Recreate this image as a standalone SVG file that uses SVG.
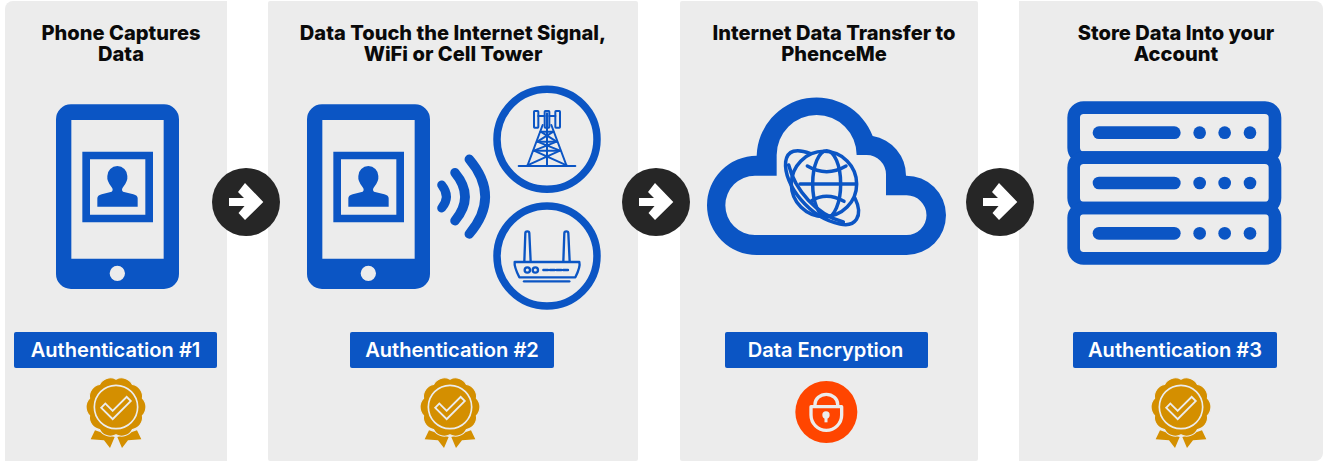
<svg xmlns="http://www.w3.org/2000/svg" xmlns:xlink="http://www.w3.org/1999/xlink" width="1328" height="465" viewBox="0 0 1328 465">
<style>
.panel{fill:#ececec}
.blue{fill:#0b55c4}
.bl{fill:none;stroke:#0b55c4;stroke-linecap:round;stroke-linejoin:round}
.title{font-family:"Inter","Liberation Sans",sans-serif;font-weight:800;font-size:20.1px;fill:#0a0a0a;text-anchor:middle}
.tag{fill:#0b55c4}
.tagt{font-family:"Inter","Liberation Sans",sans-serif;font-weight:600;font-size:20.1px;fill:#fff;text-anchor:middle}
</style>
<defs>
<g id="phone" transform="scale(0.33333)">
<path class="blue" fill-rule="evenodd" d="M213 73H492A45 45 0 0 1 537 118V582A45 45 0 0 1 492 627H213A45 45 0 0 1 168 582V118A45 45 0 0 1 213 73ZM214 120V536H491V120ZM352 557A23 23 0 1 0 352 603A23 23 0 1 0 352 557Z"/>
<path class="blue" fill-rule="evenodd" d="M247 215H459V427H247ZM270 238V404H436V238Z"/>
<path class="blue" d="M292 380V355Q292 346 305 343L335 335Q341 330 335 322Q320 303 322 288A30 30 0 0 1 382 288Q384 303 369 322Q363 330 369 335L400 343Q413 346 413 355V380Z"/>
</g>
<g id="arrow">
<circle r="34" fill="#262626"/>
<path fill="#fff" d="M-17 -4H4V4H-17ZM-1 -19L17.3 0L-1 18L-7.5 11L2 0L-8 -10Z"/>
</g>
<g id="badge" transform="scale(0.33333)">
<path fill="#d48f00" d="M-63 70L-76 97L-36 100L-18 123L-4 90ZM63 70L76 97L36 100L18 123L4 90Z"/>
<path fill="#d48f00" stroke="#ececec" stroke-width="3" transform="scale(1.07)" d="M74 -24A34 34 0 0 1 74 24A34 34 0 0 1 46 63A34 34 0 0 1 0 78A34 34 0 0 1 -46 63A34 34 0 0 1 -74 24A34 34 0 0 1 -74 -24A34 34 0 0 1 -46 -63A34 34 0 0 1 0 -78A34 34 0 0 1 46 -63A34 34 0 0 1 74 -24Z"/>
<circle r="65" fill="none" stroke="#ececec" stroke-width="5"/>
<path d="M-32 2L-10 24L32 -18" fill="none" stroke="#ececec" stroke-width="23" stroke-linecap="square" stroke-linejoin="miter"/>
<path d="M-32 2L-10 24L32 -18" fill="none" stroke="#d48f00" stroke-width="12" stroke-linecap="square" stroke-linejoin="miter"/>
</g>
</defs>
<rect width="1328" height="465" fill="#fff"/>

<g id="node-capture">
<path class="panel" d="M5 461V9A8 8 0 0 1 13 1H227V461Z"/>
<text class="title"><tspan x="121" y="40">Phone Captures</tspan><tspan x="121" y="61">Data</tspan></text>
<use href="#phone" xlink:href="#phone" x="0" y="80"/>
<rect class="tag" x="14" y="332" width="203" height="36" rx="2"/>
<text class="tagt" x="115.5" y="357">Authentication #1</text>
<use href="#badge" xlink:href="#badge" x="116" y="407"/>
</g>

<g id="node-signal">
<rect class="panel" x="268" y="1" width="370" height="460" rx="2"/>
<text class="title"><tspan x="453" y="40">Data Touch the Internet Signal,</tspan><tspan x="453" y="61">WiFi or Cell Tower</tspan></text>
<use href="#phone" xlink:href="#phone" x="251" y="80"/>
<path class="bl" stroke-width="9" d="M441.7 185Q451 196.7 441.7 208"/>
<path class="bl" stroke-width="9.5" d="M455 172.7Q475 196.7 455 220.7"/>
<path class="bl" stroke-width="9.5" d="M469.3 159.3Q501 196.7 469.3 234"/>
<circle cx="547" cy="139.3" r="50" fill="none" stroke="#0b55c4" stroke-width="7.5"/>
<circle cx="547" cy="256" r="50" fill="none" stroke="#0b55c4" stroke-width="7.5"/>
<g transform="translate(420 80) scale(0.33333)">
<g class="bl" stroke-width="6">
<path d="M296 258H466"/>
<path d="M322 258L368 135M440 258L394 135M381 100V258"/>
<path d="M362 155H400M352 185H410M342 212H420"/>
<path d="M362 155L410 185M400 155L352 185M352 185L420 212M410 185L342 212M342 212L440 256M420 212L322 256"/>
<rect x="342" y="93" width="13" height="50" rx="2"/>
<rect x="374" y="93" width="14" height="50" rx="2"/>
<rect x="406" y="93" width="14" height="50" rx="2"/>
<path d="M355 108H374M388 108H406"/>
</g>
<g class="bl" stroke-width="7">
<path d="M313 545L316 460A6 6 0 0 1 328 460L332 545M430 545L433 460A6 6 0 0 1 445 460L449 545"/>
<path d="M284 546H478Q482 560 466 592H298Q282 560 284 546Z"/>
<path d="M312 604H448"/>
<circle cx="322" cy="570" r="8"/>
<circle cx="346" cy="570" r="8"/>
<path d="M370 570H384M390 570H404M410 570H424M430 570H444"/>
</g>
</g>
<rect class="tag" x="350" y="332" width="204" height="36" rx="2"/>
<text class="tagt" x="452" y="357">Authentication #2</text>
<use href="#badge" xlink:href="#badge" x="450" y="407"/>
</g>

<g id="node-transfer">
<rect class="panel" x="680" y="1" width="298" height="460" rx="2"/>
<text class="title"><tspan x="834" y="40">Internet Data Transfer to</tspan><tspan x="834" y="61">PhenceMe</tspan></text>
<g transform="translate(700 90) scale(0.33333)">
<path class="blue" fill-rule="evenodd" d="M170 495A149 149 0 0 1 170 197A180 180 0 0 1 518 138A120 120 0 0 1 618 257A119 119 0 0 1 620 495ZM165 435H620A59.5 59.5 0 0 0 620 316H558V253A58 58 0 0 0 500 195H470A120 120 0 0 0 230 195V257H165A89 89 0 0 0 165 435Z"/>
<g class="bl" stroke-width="10.5">
<circle cx="372" cy="282" r="98"/>
<ellipse cx="380" cy="282" rx="42" ry="100"/>
<path d="M300 282H468M322 228Q380 262 438 228M335 332Q380 305 432 334"/>
<path d="M330 190C290 175 262 180 257 215C250 285 330 385 420 402C465 412 492 380 465 325"/>
<path d="M266 225C285 300 350 375 430 396"/>
</g>
</g>
<rect class="tag" x="725" y="332" width="203" height="36" rx="2"/>
<text class="tagt" x="825.5" y="357">Data Encryption</text>
<g id="lock" transform="translate(710 325) scale(0.33333)">
<circle cx="349" cy="261" r="93" fill="#ff4500"/>
<path d="M303 245H395V270A46 46 0 0 1 303 270Z" fill="none" stroke="#ececec" stroke-width="10" stroke-linejoin="round"/>
<path d="M315 245V238A34 30 0 0 1 383 238V245" fill="none" stroke="#ececec" stroke-width="10"/>
<circle cx="348" cy="270" r="11" fill="#ececec"/>
<path d="M348 270V292" stroke="#ececec" stroke-width="9"/>
</g>
</g>

<g id="node-store">
<path class="panel" d="M1019 1H1315A8 8 0 0 1 1323 9V453A8 8 0 0 1 1315 461H1019Z"/>
<text class="title"><tspan x="1176" y="40">Store Data Into your</tspan><tspan x="1176" y="61">Account</tspan></text>
<g transform="translate(1050 90) scale(0.33333)">
<g fill="none" stroke="#0b55c4" stroke-width="38">
<rect x="71" y="53" width="604" height="150" rx="30"/>
<rect x="71" y="203" width="604" height="151" rx="30"/>
<rect x="71" y="354" width="604" height="151" rx="30"/>
</g>
<g class="blue">
<rect x="128" y="109" width="264" height="38" rx="19"/><circle cx="449" cy="128" r="19"/><circle cx="524" cy="128" r="19"/><circle cx="600" cy="128" r="19"/>
<rect x="128" y="260" width="264" height="38" rx="19"/><circle cx="449" cy="279" r="19"/><circle cx="524" cy="279" r="19"/><circle cx="600" cy="279" r="19"/>
<rect x="128" y="411" width="264" height="38" rx="19"/><circle cx="449" cy="430" r="19"/><circle cx="524" cy="430" r="19"/><circle cx="600" cy="430" r="19"/>
</g>
</g>
<rect class="tag" x="1073" y="332" width="204" height="36" rx="2"/>
<text class="tagt" x="1175" y="357">Authentication #3</text>
<use href="#badge" xlink:href="#badge" x="1181" y="407"/>
</g>

<g id="connectors">
<use href="#arrow" xlink:href="#arrow" x="246" y="202"/>
<use href="#arrow" xlink:href="#arrow" x="656" y="202"/>
<use href="#arrow" xlink:href="#arrow" x="1000" y="202"/>
</g>
</svg>
